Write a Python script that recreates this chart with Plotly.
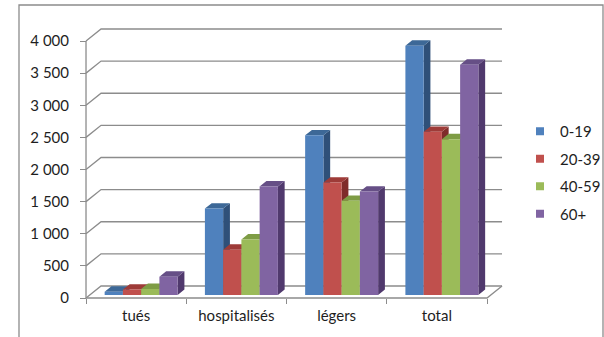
import plotly.graph_objects as go

# ---- data ----
categories = ["tués", "hospitalisés", "légers", "total"]
series_names = ["0-19", "20-39", "40-59", "60+"]
v_0_19 = [50, 1345, 2485, 3880]
v_20_39 = [85, 705, 1750, 2540]
v_40_59 = [95, 865, 1465, 2425]
v_60p = [285, 1690, 1610, 3585]
series_values = [v_0_19, v_20_39, v_40_59, v_60p]
y_ticks = [0, 500, 1000, 1500, 2000, 2500, 3000, 3500, 4000]
y_tick_labels = ["0", "500", "1 000", "1 500", "2 000", "2 500", "3 000", "3 500", "4 000"]

# ---- style ----
front_cols = ["#4F81BD", "#C0504D", "#9BBB59", "#8064A2"]
top_cols = ["#3D6897", "#9E3B38", "#7E9C45", "#664F86"]
side_cols = ["#2F5079", "#7F2C2A", "#637D34", "#50396D"]
grid_col = "#8C8C8C"
txt_col = "#1E1E1E"
FONT = "Lato"
FSIZE = 15

DX = 0.15      # depth offset (x units)
DY = 187.0     # depth offset (value units)
F0, F1 = 0.25, 0.70  # bar depth range as fraction of floor depth
BAR_W = 0.182
CL_OFF = 0.05
n_cat = len(categories)
n_ser = len(series_names)
xmin, xmax = -0.5, n_cat - 0.5

fig = go.Figure()

# ---- walls / gridlines ----
gx, gy = [], []
for t in y_ticks:
    gx += [xmin, xmin + DX, xmax + DX, None]
    gy += [t, t + DY, t + DY, None]
gx += [xmin, xmin, None]
gy += [0, y_ticks[-1], None]
gx += [xmin, xmax, xmax + DX, None]
gy += [0, 0, DY, None]
fig.add_trace(go.Scatter(x=gx, y=gy, mode="lines", line=dict(color=grid_col, width=1.3),
                         hoverinfo="skip", showlegend=False))

# ---- 3D bars ----
dxb = (F1 - F0) * DX
dyb = (F1 - F0) * DY
base = F0 * DY
for j in range(n_ser):
    sx, sy, tx, ty, fx, fy = [], [], [], [], [], []
    for i in range(n_cat):
        v = series_values[j][i]
        x0 = i + CL_OFF - n_ser / 2 * BAR_W + j * BAR_W
        x1 = x0 + BAR_W
        y0 = base
        y1 = base + v
        sx += [x1, x1 + dxb, x1 + dxb, x1, x1, None]
        sy += [y0, y0 + dyb, y1 + dyb, y1, y0, None]
        tx += [x0, x1, x1 + dxb, x0 + dxb, x0, None]
        ty += [y1, y1, y1 + dyb, y1 + dyb, y1, None]
        fx += [x0, x1, x1, x0, x0, None]
        fy += [y0, y0, y1, y1, y0, None]
    for xs, ys, c in [(sx, sy, side_cols[j]), (tx, ty, top_cols[j]), (fx, fy, front_cols[j])]:
        fig.add_trace(go.Scatter(x=xs, y=ys, mode="lines", fill="toself", fillcolor=c,
                                 line=dict(width=0, color=c), hoverinfo="skip",
                                 showlegend=False, legendgroup=series_names[j]))

# ---- legend entries ----
for j in range(n_ser):
    fig.add_trace(go.Scatter(x=[None], y=[None], mode="markers", name=series_names[j],
                             legendgroup=series_names[j],
                             marker=dict(symbol="square", size=8, color=front_cols[j])))

fig.update_layout(
    width=604, height=337,
    margin=dict(l=80, r=97, t=25, b=35),
    paper_bgcolor="white", plot_bgcolor="white",
    font=dict(family=FONT, size=FSIZE, color=txt_col),
    showlegend=True,
    legend=dict(xref="container", yref="container", x=520 / 604, y=1 - 115 / 337,
                xanchor="left", yanchor="top", traceorder="grouped", tracegroupgap=5,
                font=dict(family=FONT, size=FSIZE, color=txt_col), bgcolor="rgba(0,0,0,0)"),
    xaxis=dict(range=[-0.56, 3.6995], tickvals=list(range(n_cat)), ticktext=categories,
               ticks="", showgrid=False, zeroline=False, showline=False,
               anchor="free", position=4 / 277, ticklabelstandoff=7,
               minor=dict(tick0=-0.5, dtick=1, ticks="outside", ticklen=5,
                          tickcolor=grid_col, tickwidth=1.3, showgrid=False),
               fixedrange=True),
    yaxis=dict(range=[-62.3, 4249], tickvals=y_ticks, ticktext=y_tick_labels,
               ticks="outside", ticklen=6, tickcolor=grid_col, tickwidth=1.3,
               showgrid=False, zeroline=False, showline=False,
               anchor="free", position=6 / 427, ticklabelstandoff=8, fixedrange=True),
    shapes=[dict(type="rect", xref="paper", yref="paper",
                 x0=-61 / 427, x1=523 / 427, y0=-40 / 277, y1=297 / 277,
                 line=dict(color="#8C8C8C", width=1.3), fillcolor="rgba(0,0,0,0)", layer="below")],
)

fig.write_html("out.html")
